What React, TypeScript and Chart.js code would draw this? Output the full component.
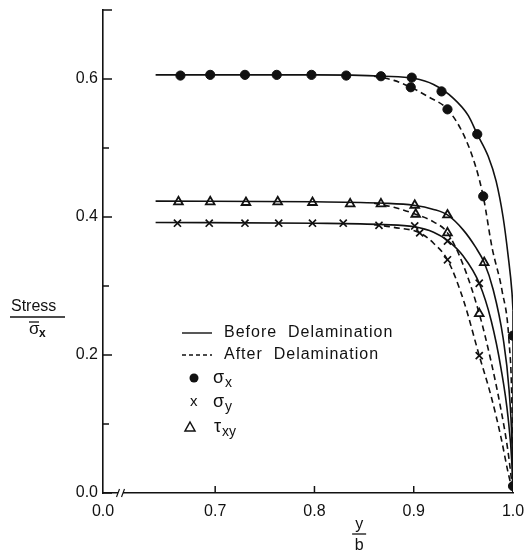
import React, { useEffect, useRef } from "react";
import { Chart, registerables } from "chart.js";
Chart.register(...registerables);

// ---- axis ticks ----
const xTickValues = [0.587, 0.7, 0.8, 0.9, 1.0];
const xTickLabels = ["0.0", "0.7", "0.8", "0.9", "1.0"];
const yTickValues = [0, 0.1, 0.2, 0.3, 0.4, 0.5, 0.6, 0.7];
const yTickLabels = ["0.0", "", "0.2", "", "0.4", "", "0.6", ""];

// ---- curves ----
const sxBeforeCurve = [[0.64, 0.606], [0.8, 0.606], [0.87, 0.604], [0.9, 0.601], [0.92, 0.592], [0.94, 0.572], [0.955, 0.547], [0.964, 0.52], [0.975, 0.488], [0.983, 0.452], [0.99, 0.4], [0.995, 0.345], [0.999, 0.29], [1.0, 0.265]];
const sxBeforeDrop = [[1.0, 0.265], [1.0, 0.0]];
const sxAfterCurve = [[0.86, 0.604], [0.88, 0.598], [0.897, 0.588], [0.915, 0.574], [0.934, 0.556], [0.95, 0.52], [0.962, 0.475], [0.97, 0.43], [0.979, 0.355], [0.989, 0.293], [0.996, 0.22], [0.999, 0.12], [1.0, 0.0]];
const txyBeforeCurve = [[0.64, 0.423], [0.8, 0.422], [0.87, 0.42], [0.9, 0.417], [0.92, 0.411], [0.934, 0.403], [0.95, 0.381], [0.962, 0.357], [0.971, 0.334], [0.98, 0.295], [0.99, 0.225], [0.996, 0.15], [0.999, 0.07], [1.0, 0.0]];
const txyAfterCurve = [[0.86, 0.42], [0.88, 0.414], [0.902, 0.404], [0.92, 0.393], [0.934, 0.377], [0.95, 0.33], [0.966, 0.26], [0.978, 0.19], [0.988, 0.12], [0.995, 0.06], [1.0, 0.0]];
const syBeforeCurve = [[0.64, 0.392], [0.8, 0.391], [0.87, 0.389], [0.9, 0.386], [0.92, 0.378], [0.934, 0.366], [0.95, 0.343], [0.966, 0.304], [0.978, 0.25], [0.988, 0.18], [0.995, 0.11], [0.999, 0.04], [1.0, 0.0]];
const syAfterCurve = [[0.86, 0.389], [0.88, 0.385], [0.906, 0.377], [0.92, 0.362], [0.934, 0.338], [0.95, 0.28], [0.966, 0.199], [0.978, 0.14], [0.988, 0.08], [0.995, 0.03], [1.0, 0.0]];

// ---- markers ----
const sxBeforePts = [[0.665, 0.605], [0.695, 0.606], [0.73, 0.606], [0.762, 0.606], [0.797, 0.606], [0.832, 0.605], [0.867, 0.604], [0.898, 0.602], [0.928, 0.582], [0.964, 0.52], [1.0, 0.228]];
const sxAfterPts = [[0.897, 0.588], [0.934, 0.556], [0.97, 0.43], [1.0, 0.01]];
const syBeforePts = [[0.662, 0.391], [0.694, 0.391], [0.73, 0.391], [0.764, 0.391], [0.798, 0.391], [0.829, 0.391], [0.865, 0.388], [0.901, 0.387], [0.934, 0.365], [0.966, 0.304]];
const syAfterPts = [[0.906, 0.377], [0.934, 0.338], [0.966, 0.199]];
const txyBeforePts = [[0.663, 0.422], [0.695, 0.422], [0.731, 0.421], [0.763, 0.422], [0.798, 0.421], [0.836, 0.419], [0.867, 0.419], [0.901, 0.417], [0.934, 0.403], [0.971, 0.334]];
const txyAfterPts = [[0.902, 0.404], [0.934, 0.377], [0.966, 0.26]];

const legendItems = ["Before  Delamination", "After  Delamination"];

const toXY = (arr: number[][]) => arr.map(([x, y]) => ({ x, y }));

const INK = "#111";
const FONT = "'Liberation Sans', Arial, sans-serif";

function lineDs(data: number[][], dashed: boolean) {
  return {
    data: toXY(data),
    showLine: true,
    borderColor: INK,
    borderWidth: 1.6,
    borderDash: dashed ? [6, 4] : [],
    pointRadius: 0,
    cubicInterpolationMode: "monotone" as const,
    fill: false,
  };
}

function markerDs(data: number[][], style: string) {
  const base: any = {
    data: toXY(data),
    showLine: false,
    pointStyle: style,
    borderColor: INK,
  };
  if (style === "circle") {
    base.pointRadius = 4.6;
    base.backgroundColor = INK;
    base.borderWidth = 1;
  } else if (style === "triangle") {
    base.pointRadius = 5;
    base.backgroundColor = "#fff";
    base.borderWidth = 1.8;
  } else {
    base.pointRadius = 5;
    base.backgroundColor = INK;
    base.borderWidth = 1.7;
  }
  return base;
}

const decorPlugin = {
  id: "decor",
  afterDraw(chart: any) {
    const ctx = chart.ctx as CanvasRenderingContext2D;
    const xs = chart.scales.x;
    const ys = chart.scales.y;
    const a = chart.chartArea;
    ctx.save();
    ctx.strokeStyle = INK;
    ctx.fillStyle = INK;
    ctx.lineWidth = 1.5;
    // y ticks (inward)
    yTickValues.forEach((v, i) => {
      const py = ys.getPixelForValue(v);
      const len = yTickLabels[i] || i === yTickValues.length - 1 ? 9 : 6;
      ctx.beginPath();
      ctx.moveTo(a.left, py);
      ctx.lineTo(a.left + len, py);
      ctx.stroke();
    });
    // x ticks (inward)
    xTickValues.slice(1, -1).forEach((v) => {
      const px = xs.getPixelForValue(v);
      ctx.beginPath();
      ctx.moveTo(px, a.bottom);
      ctx.lineTo(px, a.bottom - 7);
      ctx.stroke();
    });
    // axis break
    ctx.fillStyle = "#fff";
    ctx.fillRect(a.left + 15, a.bottom - 2, 5, 4);
    ctx.fillStyle = INK;
    ctx.lineWidth = 1.2;
    [a.left + 15, a.left + 20].forEach((bx) => {
      ctx.beginPath();
      ctx.moveTo(bx - 1.5, a.bottom + 4);
      ctx.lineTo(bx + 1.5, a.bottom - 4);
      ctx.stroke();
    });

    // y-axis title: Stress / sigma-bar x
    ctx.lineWidth = 1.3;
    ctx.font = `16px ${FONT}`;
    ctx.textBaseline = "alphabetic";
    ctx.textAlign = "left";
    ctx.fillText("Stress", 11, 311);
    ctx.beginPath();
    ctx.moveTo(10, 317);
    ctx.lineTo(65, 317);
    ctx.stroke();
    ctx.font = `17px ${FONT}`;
    ctx.fillText("\u03C3", 29, 334);
    ctx.beginPath();
    ctx.moveTo(29, 322);
    ctx.lineTo(39, 322);
    ctx.stroke();
    ctx.font = `bold 12px ${FONT}`;
    ctx.fillText("x", 39, 337);

    // x-axis title: y / b
    const cx = xs.getPixelForValue(0.845);
    ctx.font = `16px ${FONT}`;
    ctx.textAlign = "center";
    ctx.fillText("y", cx, 529);
    ctx.beginPath();
    ctx.moveTo(cx - 7, 534);
    ctx.lineTo(cx + 7, 534);
    ctx.stroke();
    ctx.fillText("b", cx, 550);

    // legend
    ctx.textAlign = "left";
    ctx.font = `16px ${FONT}`;
    (ctx as any).letterSpacing = "1px";
    const lx = 182;
    const rows = [333, 355, 378, 402, 427];
    ctx.lineWidth = 1.4;
    ctx.beginPath();
    ctx.moveTo(lx, rows[0]);
    ctx.lineTo(lx + 30, rows[0]);
    ctx.stroke();
    ctx.setLineDash([4, 3]);
    ctx.beginPath();
    ctx.moveTo(lx, rows[1]);
    ctx.lineTo(lx + 30, rows[1]);
    ctx.stroke();
    ctx.setLineDash([]);
    ctx.textBaseline = "middle";
    ctx.fillText(legendItems[0], 224, rows[0]);
    ctx.fillText(legendItems[1], 224, rows[1]);
    (ctx as any).letterSpacing = "0px";
    // symbols
    ctx.beginPath();
    ctx.arc(194, rows[2], 4.5, 0, Math.PI * 2);
    ctx.fill();
    ctx.font = `15px ${FONT}`;
    ctx.fillText("x", 190, rows[3]);
    ctx.lineWidth = 1.5;
    ctx.beginPath();
    ctx.moveTo(190, rows[4] - 5);
    ctx.lineTo(195, rows[4] + 4);
    ctx.lineTo(185, rows[4] + 4);
    ctx.closePath();
    ctx.stroke();
    // symbol labels
    const greek = (g: string, sub: string, x: number, y: number) => {
      ctx.font = `18px ${FONT}`;
      ctx.fillText(g, x, y);
      const w = ctx.measureText(g).width;
      ctx.font = `14px ${FONT}`;
      ctx.fillText(sub, x + w + 1, y + 5);
    };
    greek("\u03C3", "x", 213, rows[2]);
    greek("\u03C3", "y", 213, rows[3]);
    greek("\u03C4", "xy", 214, rows[4]);
    ctx.restore();
  },
};

export default function App() {
  const ref = useRef<HTMLCanvasElement | null>(null);
  useEffect(() => {
    if (!ref.current) return;
    const chart = new Chart(ref.current, {
      type: "scatter",
      data: {
        datasets: [
          lineDs(sxBeforeCurve, false),
          lineDs(sxBeforeDrop, false),
          lineDs(sxAfterCurve, true),
          lineDs(txyBeforeCurve, false),
          lineDs(txyAfterCurve, true),
          lineDs(syBeforeCurve, false),
          lineDs(syAfterCurve, true),
          markerDs(sxBeforePts, "circle"),
          markerDs(sxAfterPts, "circle"),
          markerDs(syBeforePts, "crossRot"),
          markerDs(syAfterPts, "crossRot"),
          markerDs(txyBeforePts, "triangle"),
          markerDs(txyAfterPts, "triangle"),
        ] as any,
      },
      options: {
        animation: false,
        responsive: false,
        events: [],
        layout: { padding: { left: 0, right: 19, top: 10, bottom: 0 } },
        plugins: { legend: { display: false }, tooltip: { enabled: false } },
        scales: {
          x: {
            type: "linear",
            min: xTickValues[0],
            max: 1.0,
            grid: { display: false, drawTicks: false },
            border: { display: true, color: INK, width: 1.6 },
            afterBuildTicks: (s: any) => {
              s.ticks = xTickValues.map((v) => ({ value: v }));
            },
            afterFit: (s: any) => {
              s.height = 63;
              s.paddingLeft = 0;
              s.paddingRight = 0;
            },
            ticks: {
              padding: 9,
              color: INK,
              font: { family: FONT, size: 16 },
              callback: (v: any, i: number) => xTickLabels[i] ?? "",
            },
          },
          y: {
            type: "linear",
            min: 0,
            max: 0.7,
            grid: { display: false, drawTicks: false },
            border: { display: true, color: INK, width: 1.6 },
            afterBuildTicks: (s: any) => {
              s.ticks = yTickValues.map((v) => ({ value: v }));
            },
            afterFit: (s: any) => {
              s.width = 103;
              s.paddingTop = 0;
              s.paddingBottom = 0;
            },
            ticks: {
              padding: 5,
              color: INK,
              font: { family: FONT, size: 16 },
              callback: (v: any, i: number) => yTickLabels[i] ?? "",
            },
          },
        },
      },
      plugins: [decorPlugin],
    });
    return () => chart.destroy();
  }, []);
  return (
    <div style={{ position: "fixed", left: 0, top: 0, width: 532, height: 556, background: "#fff" }}>
      <canvas ref={ref} width={532} height={556} style={{ display: "block" }} />
    </div>
  );
}
